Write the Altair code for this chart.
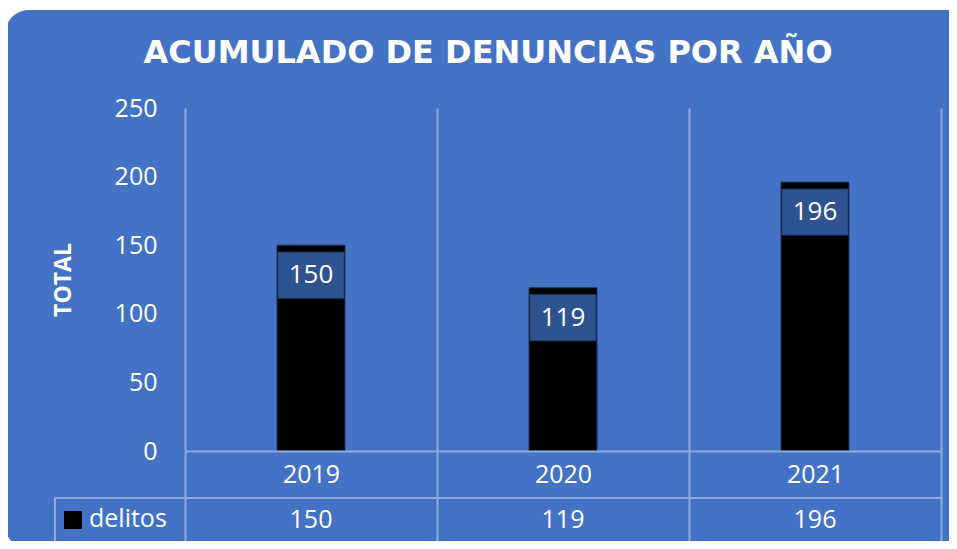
import altair as alt
import pandas as pd

YEARS = ["2019", "2020", "2021"]
DELITOS = [150, 119, 196]
SERIES = "delitos"
TITLE = "ACUMULADO DE DENUNCIAS POR AÑO"
Y_TITLE = "TOTAL"

BLUE = "#4472C4"
GRID = "#8FAADC"
BOX = "#2F5290"
FONT = "Open Sans"

df = pd.DataFrame({"year": YEARS, "value": DELITOS, "series": [SERIES] * len(YEARS)})
one = pd.DataFrame({"series": [SERIES], "title": [TITLE]})

W, H = 756, 343

x = alt.X("year:N", sort=YEARS,
          scale=alt.Scale(paddingInner=0, paddingOuter=0),
          axis=alt.Axis(title=None, labelAngle=0, labelColor="white", labelFont=FONT,
                        labelFontSize=25, labelPadding=-68, labelBaseline="middle",
                        tickBand="extent", ticks=True, tickSize=91, tickColor=GRID,
                        tickWidth=2, domain=True, domainColor=GRID, domainWidth=2,
                        grid=True, gridColor=GRID, gridWidth=2, gridOpacity=1,
                        labelOffset=0, zindex=1))
y = alt.Y("value:Q",
          scale=alt.Scale(domain=[0, 250], nice=False, zero=True, padding=0),
          axis=alt.Axis(values=[0, 50, 100, 150, 200, 250], grid=False, ticks=False,
                        domain=False, labelColor="white", labelFont=FONT,
                        labelFontSize=25, labelPadding=28,
                        title=Y_TITLE, titleColor="white", titleFont=FONT,
                        titleFontSize=23, titleFontWeight="bold", titleAngle=270,
                        titleX=-122, titleY=H / 2, titleAlign="center",
                        titleBaseline="middle", zindex=1))

base = alt.Chart(df)

panel = alt.Chart(one).mark_rect(color=BLUE, cornerRadius=24).encode(
    x=alt.value(-180), x2=alt.value(W + 60), y=alt.value(-98), y2=alt.value(H + 98))

title = alt.Chart(one).mark_text(color="white", font="DejaVu Sans", fontSize=32,
                                 fontWeight="bold", align="center",
                                 baseline="middle").encode(
    x=alt.value(303), y=alt.value(-55), text="title:N")

bars = base.mark_bar(color="black", stroke="#1F3864", strokeWidth=1,
                     width=alt.RelativeBandSize(0.27)).encode(x=x, y=y)

boxes = base.mark_point(shape="M-1.435,-1H1.435V1H-1.435Z", size=2116, filled=True,
                        fill=BOX, stroke="#24406F", strokeWidth=1, opacity=1,
                        yOffset=30).encode(x=alt.X("year:N", sort=YEARS), y="value:Q")

labels = base.mark_text(color="white", font=FONT, fontSize=26, baseline="middle",
                        dy=30).encode(x=alt.X("year:N", sort=YEARS), y="value:Q",
                                      text="value:Q")

# table row with values
row_vals = base.mark_text(color="white", font=FONT, fontSize=25, baseline="middle").encode(
    x=alt.X("year:N", sort=YEARS), y=alt.value(H + 69), text="value:Q")

# table lines
hline1 = alt.Chart(one).mark_rule(color=GRID, strokeWidth=2).encode(
    x=alt.value(-130), x2=alt.value(W), y=alt.value(H + 47))
hline2 = alt.Chart(one).mark_rule(color=GRID, strokeWidth=2).encode(
    x=alt.value(-130), x2=alt.value(W), y=alt.value(H + 91))
vline = alt.Chart(one).mark_rule(color=GRID, strokeWidth=2).encode(
    x=alt.value(-130), y=alt.value(H + 47), y2=alt.value(H + 91))

legend_sq = alt.Chart(one).mark_square(
    color="black", size=324, filled=True, opacity=1).encode(
    x=alt.value(-112), y=alt.value(H + 69))
legend_txt = alt.Chart(one).mark_text(
    color="white", font=FONT, fontSize=25, align="left", baseline="middle").encode(
    x=alt.value(-96), y=alt.value(H + 68), text="series:N")

chart = alt.layer(panel, title, bars, boxes, labels, row_vals, hline1, hline2, vline,
                  legend_sq, legend_txt).properties(
    width=W, height=H,
    background="white",
    padding={"left": 177, "top": 100, "right": 8, "bottom": 90},
    autosize=alt.AutoSizeParams(type="none"),
).configure_view(stroke=None)

chart.save("out.html", embed_options={"renderer": "svg", "actions": False})
